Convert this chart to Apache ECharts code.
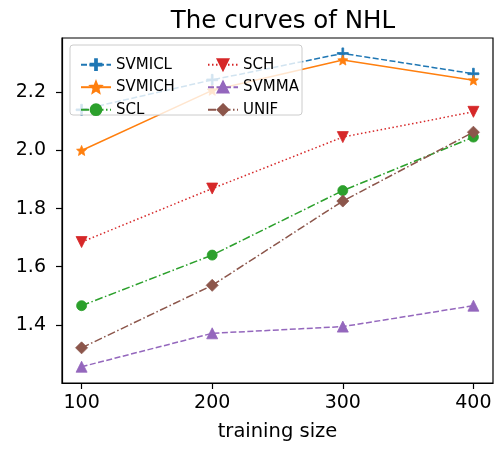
<!DOCTYPE html>
<html>
<head>
<meta charset="utf-8">
<script src="https://cdn.jsdelivr.net/npm/echarts@6/dist/echarts.min.js"></script>
<style>
html,body{margin:0;padding:0;background:#fff;}
#c{width:498px;height:450px;}
</style>
</head>
<body>
<div id="c"></div>
<script>
// ---- data ----
var trainingSize = [100, 200, 300, 400];
var svmicl = [2.140, 2.243, 2.334, 2.264];
var svmich = [2.000, 2.207, 2.311, 2.242];
var scl    = [1.466, 1.640, 1.862, 2.046];
var sch    = [1.685, 1.869, 2.046, 2.133];
var svmma  = [1.256, 1.371, 1.394, 1.466];
var unif   = [1.321, 1.536, 1.826, 2.063];
var xTicks = [100, 200, 300, 400];
var yTicks = [1.4, 1.6, 1.8, 2.0, 2.2];
var seriesNames = ['SVMICL', 'SVMICH', 'SCL', 'SCH', 'SVMMA', 'UNIF'];

function pairs(ys){ return trainingSize.map(function(x,i){ return [x, ys[i]]; }); }

// marker shapes
var plusPath = 'path://M-0.8,-5H0.8V-0.8H5V0.8H0.8V5H-0.8V0.8H-5V-0.8H-0.8Z';
var starPath = (function(){
  var pts = [];
  for (var i = 0; i < 10; i++) {
    var r = (i % 2 === 0) ? 5 : 5 * 0.45;
    var a = -Math.PI / 2 + i * Math.PI / 5;
    pts.push((r * Math.cos(a)).toFixed(3) + ',' + (r * Math.sin(a)).toFixed(3));
  }
  return 'path://M' + pts.join('L') + 'Z';
})();
var triDown = 'path://M-5,-5L5,-5L0,5Z';
var triUp = 'path://M0,-5L5,5L-5,5Z';

var FONT = 'DejaVu Sans';
var LW = 1.5;

function mk(name, ys, color, dash, symbol, size){
  return {
    name: name, type: 'line', data: pairs(ys),
    symbol: symbol, symbolSize: size, showAllSymbol: true,
    lineStyle: { color: color, width: LW, type: dash },
    itemStyle: { color: color, borderColor: color, borderWidth: 0.8 },
    emphasis: { disabled: true },
    animation: false, z: 2
  };
}

var chart = echarts.init(document.getElementById('c'), null, { renderer: 'canvas' });
var legendCommon = {
  orient: 'vertical', itemWidth: 30, itemHeight: 13.5, itemGap: 7.5, top: 52.2,
  textStyle: { fontFamily: FONT, fontSize: 15, color: '#000' },
  selectedMode: false, z: 12
};
chart.setOption({
  animation: false,
  backgroundColor: '#fff',
  title: {
    text: 'The curves of NHL', left: 278, textAlign: 'center', top: 4,
    textStyle: { fontFamily: FONT, fontSize: 24.5, fontWeight: 'normal', color: '#000' }
  },
  grid: { left: 62, right: 5, top: 38, bottom: 67, show: true, borderColor: '#000', borderWidth: 1.2, backgroundColor: 'transparent', containLabel: false },
  xAxis: {
    type: 'value', min: 85, max: 415,
    name: 'training size', nameLocation: 'middle', nameGap: 39,
    nameTextStyle: { fontFamily: FONT, fontSize: 19.5, color: '#000' },
    axisLine: { show: true, lineStyle: { color: '#000', width: 1.2 } },
    axisTick: { show: true, inside: false, length: 6, lineStyle: { color: '#000', width: 1.2 }, customValues: xTicks },
    axisLabel: { customValues: xTicks, margin: 11, fontFamily: FONT, fontSize: 19, color: '#000' },
    splitLine: { show: false }
  },
  yAxis: {
    type: 'value', min: 1.2, max: 2.387,
    axisLine: { show: true, lineStyle: { color: '#000', width: 1.2 } },
    axisTick: { show: true, inside: false, length: 6, lineStyle: { color: '#000', width: 1.2 }, customValues: yTicks },
    axisLabel: { customValues: yTicks, margin: 16, fontFamily: FONT, fontSize: 19, color: '#000',
      formatter: function(v){ return v.toFixed(1); } },
    splitLine: { show: false }
  },
  legend: [
    Object.assign({}, legendCommon, { left: 75, data: seriesNames.slice(0, 3) }),
    Object.assign({}, legendCommon, { left: 202, data: seriesNames.slice(3, 6) })
  ],
  graphic: [{
    type: 'rect', z: 11, silent: true,
    shape: { x: 70, y: 45, width: 232, height: 70, r: 3 },
    style: { fill: 'rgba(255,255,255,0.8)', stroke: '#cccccc', lineWidth: 1 }
  }],
  series: [
    mk('SVMICL', svmicl, '#1f77b4', [6, 2.5], plusPath, 11),
    mk('SVMICH', svmich, '#ff7f0e', 'solid', starPath, 10),
    mk('SCL', scl, '#2ca02c', [8, 2.5, 1.5, 2.5], 'circle', 10),
    mk('SCH', sch, '#d62728', [1.5, 2.5], triDown, 11),
    mk('SVMMA', svmma, '#9467bd', [6, 2.5], triUp, 11),
    mk('UNIF', unif, '#8c564b', [8, 2.5, 1.5, 2.5], 'diamond', 12)
  ]
});
</script>
</body>
</html>
